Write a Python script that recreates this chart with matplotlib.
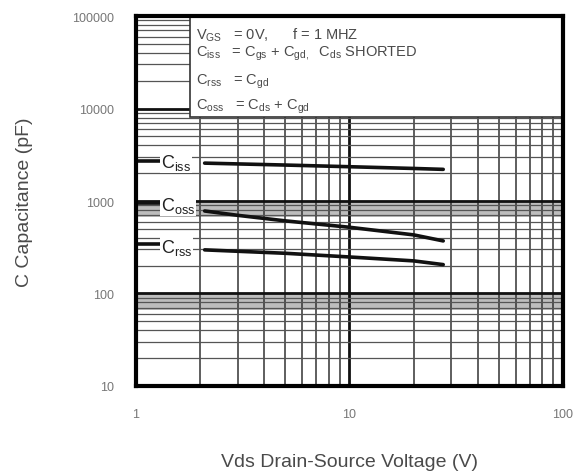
import matplotlib
matplotlib.use("Agg")
import matplotlib.pyplot as plt
from matplotlib.patches import Rectangle
from matplotlib.ticker import LogLocator, NullFormatter, FixedLocator, FixedFormatter

plt.rcParams["font.family"] = ["Liberation Sans", "DejaVu Sans"]
plt.rcParams["mathtext.fontset"] = "custom"
plt.rcParams["mathtext.rm"] = "Liberation Sans"

# ── data ──────────────────────────────────────────────────────────────────────
vds_ciss = [2.1, 5, 10, 20, 27.5]
ciss = [2570, 2450, 2350, 2250, 2200]

vds_coss = [2.1, 3, 5, 10, 20, 27.5]
coss = [780, 700, 610, 520, 430, 370]

vds_crss = [2.1, 5, 10, 20, 27.5]
crss = [296, 272, 248, 225, 205]

# short leader lines from the left edge to each label
lead_v = [1.0, 1.3]
lead_ciss = [2700, 2700]
lead_coss = [950, 950]
lead_crss = [340, 340]

x_ticks = [1, 10, 100]
x_labels = ["1", "10", "100"]
y_ticks = [10, 100, 1000, 10000, 100000]
y_labels = ["10", "100", "1000", "10000", "100000"]

C_TXT = "#4a4a4a"
C_TICK = "#777777"

fig = plt.figure(figsize=(5.78, 4.77), dpi=100)
ax = fig.add_axes([0.235, 0.189, 0.739, 0.775])
ax.set_xscale("log")
ax.set_yscale("log")
ax.set_xlim(1, 100)
ax.set_ylim(10, 100000)

# grid, scanned-datasheet style
ax.xaxis.set_minor_locator(LogLocator(base=10, subs=range(2, 10)))
ax.yaxis.set_minor_locator(LogLocator(base=10, subs=range(2, 10)))
ax.xaxis.set_minor_formatter(NullFormatter())
ax.yaxis.set_minor_formatter(NullFormatter())
ax.grid(which="minor", axis="x", color="#333333", lw=1.1, zorder=1)
ax.grid(which="minor", axis="y", color="#555555", lw=0.9, zorder=1)
ax.grid(which="major", color="#111111", lw=2.0, zorder=1)
ax.axhspan(67, 100, color="#bdbdbd", zorder=0.5, lw=0)
ax.axhspan(670, 1000, color="#bdbdbd", zorder=0.5, lw=0)

ax.xaxis.set_major_locator(FixedLocator(x_ticks))
ax.xaxis.set_major_formatter(FixedFormatter(x_labels))
ax.yaxis.set_major_locator(FixedLocator(y_ticks))
ax.yaxis.set_major_formatter(FixedFormatter(y_labels))
ax.tick_params(which="both", length=0, labelsize=9, labelcolor=C_TICK)
ax.tick_params(axis="x", pad=16)
ax.tick_params(axis="y", pad=16)

for sp in ax.spines.values():
    sp.set_linewidth(3)
    sp.set_color("black")
    sp.set_zorder(6)

# condition box (covers grid in upper decade)
ax.add_patch(Rectangle((1.79, 8200), 100 - 1.79, 100000 - 8200,
                       facecolor="white", edgecolor="#333333", lw=1.2, zorder=3))

box_kw = dict(fontsize=10.5, color=C_TXT, va="center", zorder=4)
ax.text(1.92, 64000, r"V$_{\rm GS}$   = 0V,      f = 1 MHZ", **box_kw)
ax.text(1.92, 40000, r"C$_{\rm iss}$   = C$_{\rm gs}$ + C$_{\rm gd,}$  C$_{\rm ds}$ SHORTED",
        **box_kw)
ax.text(1.92, 20000, r"C$_{\rm rss}$   = C$_{\rm gd}$", **box_kw)
ax.text(1.92, 10800, r"C$_{\rm oss}$   = C$_{\rm ds}$ + C$_{\rm gd}$", **box_kw)

# curves
for v, c in [(vds_ciss, ciss), (vds_coss, coss), (vds_crss, crss)]:
    ax.plot(v, c, color="#111111", lw=2.6, solid_capstyle="round", zorder=5)
for c in (lead_ciss, lead_coss, lead_crss):
    ax.plot(lead_v, c, color="#111111", lw=2.6, zorder=5)

lab_kw = dict(fontsize=13, color="#222222", va="center", zorder=5,
              bbox=dict(facecolor="white", edgecolor="none", pad=0.5))
ax.text(1.31, 2650, r"C$_{\rm iss}$", **lab_kw)
ax.text(1.31, 900, r"C$_{\rm oss}$", **lab_kw)
ax.text(1.31, 320, r"C$_{\rm rss}$", **lab_kw)

ax.set_xlabel("Vds Drain-Source Voltage (V)", fontsize=14, color=C_TXT, labelpad=24)
ax.set_ylabel("C Capacitance (pF)", fontsize=14, color=C_TXT, labelpad=28)

fig.savefig("out.png", dpi=100, facecolor="white")
